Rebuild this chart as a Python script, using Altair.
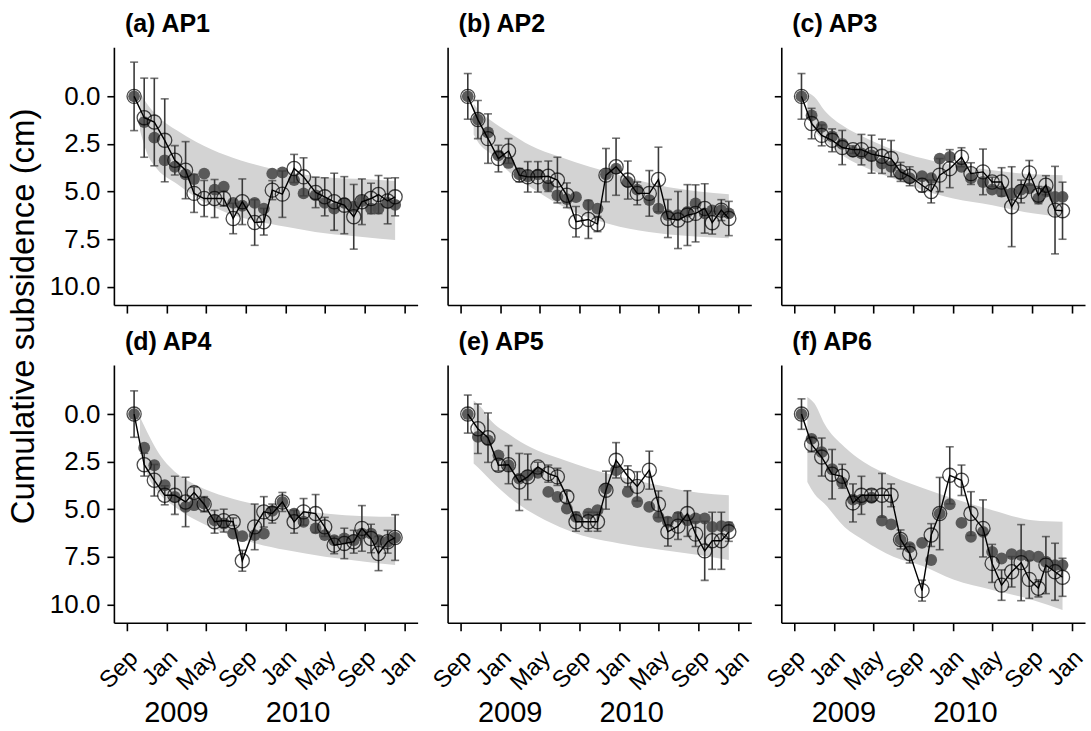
import altair as alt
import pandas as pd

# ---------------- data ----------------
dates = ["2008-09-22", "2008-10-23", "2008-11-23", "2008-12-25", "2009-01-25", "2009-02-27",
         "2009-03-25", "2009-04-25", "2009-05-27", "2009-06-24", "2009-07-23", "2009-08-20",
         "2009-09-27", "2009-10-25", "2009-11-20", "2009-12-21", "2010-01-26", "2010-02-24",
         "2010-04-02", "2010-04-30", "2010-05-29", "2010-06-29", "2010-07-28", "2010-08-22",
         "2010-09-19", "2010-10-12", "2010-11-09", "2010-12-02"]

band_dates = ["2008-10-10", "2008-11-01", "2008-12-01", "2009-02-01", "2009-04-01", "2009-07-01",
              "2009-10-01", "2010-01-01", "2010-05-01", "2010-09-01", "2010-12-02"]

tick_dates = [(2008, 9), (2009, 1), (2009, 5), (2009, 9), (2010, 1), (2010, 5), (2010, 9), (2011, 1)]
year_dates = ["2009-01-30", "2010-02-07"]
year_labels = ["2009", "2010"]
y_ticks = [0, 2.5, 5, 7.5, 10]

titles = ["(a) AP1", "(b) AP2", "(c) AP3", "(d) AP4", "(e) AP5", "(f) AP6"]

obs_a = [0.0, 1.12, 1.35, 2.31, 3.36, 3.88, 5.10, 5.37, 5.37, 5.37, 6.42, 5.54, 6.63, 6.59,
         4.93, 5.14, 3.79, 4.23, 5.05, 5.28, 5.54, 5.72, 6.33, 5.54, 5.37, 5.16, 5.50, 5.28]
err_a = [1.8, 2.08, 2.3, 2.18, 0.77, 1.5, 1.0, 0.95, 1.0, 0.4, 0.8, 1.2, 1.2, 0.7,
         0.5, 1.22, 0.74, 1.0, 0.8, 1.0, 1.5, 1.5, 1.7, 1.2, 0.8, 1.0, 1.2, 1.0]
fill_a = [0.0, 1.35, 2.17, 3.36, 3.7, 4.1, 4.35, 4.06, 4.9, 4.75, 5.6, 5.75, 5.6, 5.9,
          4.06, 4.0, 4.4, 5.1, 5.2, 5.6, 5.9, 5.6, 5.8, 5.5, 5.9, 5.9, 5.6, 5.7]
btop_a = [-0.2, 0.4, 1.0, 1.8, 2.4, 3.1, 3.6, 3.95, 4.25, 4.35, 4.45]
bbot_a = [1.8, 3.0, 3.8, 4.6, 5.3, 6.1, 6.55, 6.85, 7.2, 7.4, 7.55]

obs_b = [0.0, 1.22, 2.22, 3.27, 2.87, 4.14, 4.23, 4.23, 4.20, 4.40, 5.20, 6.59, 6.47, 6.71,
         4.14, 3.70, 4.40, 5.10, 5.10, 4.37, 6.42, 6.50, 6.24, 6.15, 5.89, 6.64, 5.98, 6.42]
err_b = [1.2, 1.0, 1.3, 0.7, 0.65, 0.35, 0.8, 0.8, 0.8, 1.2, 0.65, 0.8, 1.0, 0.4,
         1.4, 1.5, 1.0, 0.6, 1.2, 1.7, 1.0, 1.5, 1.6, 1.5, 1.3, 0.6, 0.55, 0.9]
fill_b = [0.0, 1.22, 1.9, 3.1, 3.5, 4.1, 4.2, 4.1, 4.7, 5.2, 5.4, 5.3, 5.7, 5.9,
          4.1, 3.8, 4.5, 4.9, 5.45, 5.9, 6.24, 6.24, 6.07, 5.63, 6.15, 6.0, 5.98, 6.15]
btop_b = [0.4, 0.85, 1.26, 1.96, 2.57, 3.18, 3.7, 4.14, 4.67, 5.0, 5.14]
bbot_b = [2.0, 2.6, 3.0, 4.05, 4.75, 5.7, 6.4, 6.85, 7.2, 7.38, 7.46]

obs_c = [0.0, 1.43, 2.05, 2.31, 2.69, 2.80, 2.80, 3.04, 3.15, 3.27, 3.97, 4.20, 4.67, 5.00,
         4.14, 3.80, 3.20, 4.06, 3.97, 4.50, 4.50, 5.80, 5.00, 4.02, 5.19, 4.67, 5.98, 6.01]
err_c = [1.2, 0.8, 0.55, 0.6, 0.9, 0.2, 0.8, 1.0, 0.9, 0.95, 0.5, 0.5, 0.35, 0.6,
         0.87, 1.0, 0.5, 0.57, 1.2, 0.25, 0.75, 2.1, 0.6, 0.65, 0.45, 0.5, 2.3, 1.5]
fill_c = [0.0, 1.0, 1.6, 2.1, 2.5, 2.92, 3.0, 3.1, 3.53, 3.7, 4.1, 4.3, 4.2, 4.3,
          3.27, 3.18, 3.7, 4.3, 4.5, 4.9, 5.0, 5.1, 4.9, 4.84, 5.37, 5.0, 5.28, 5.28]
btop_c = [-0.2, 0.03, 0.73, 1.6, 2.13, 2.8, 3.27, 3.62, 3.88, 4.1, 4.14]
bbot_c = [1.0, 1.78, 2.31, 3.18, 3.7, 4.32, 4.93, 5.37, 5.72, 6.15, 6.33]

obs_d = [0.0, 2.66, 3.48, 4.27, 4.27, 4.62, 4.13, 4.74, 5.66, 5.60, 5.66, 7.71, 5.93, 5.14,
         5.23, 4.62, 5.66, 5.14, 5.23, 5.93, 6.89, 6.80, 6.71, 6.01, 6.54, 7.33, 6.71, 6.49]
err_d = [1.22, 0.6, 0.83, 0.5, 1.0, 1.3, 0.3, 0.4, 0.6, 0.6, 0.2, 0.55, 1.2, 0.8,
         0.5, 0.5, 0.6, 0.7, 1.0, 0.5, 0.45, 0.8, 0.6, 1.2, 0.75, 0.9, 0.6, 1.2]
fill_d = [0.0, 1.77, 2.69, 3.74, 4.35, 4.88, 4.79, 4.70, 5.58, 5.75, 6.28, 6.42, 6.36, 6.28,
          5.09, 4.62, 5.23, 5.66, 6.01, 6.36, 6.63, 6.54, 6.63, 6.28, 6.28, 6.63, 6.71, 6.49]
btop_d = [0.16, 0.94, 1.9, 3.13, 3.74, 4.35, 4.74, 4.96, 5.23, 5.37, 5.4]
bbot_d = [1.55, 3.13, 4.0, 4.96, 5.58, 6.28, 6.8, 7.15, 7.5, 7.76, 7.94]

obs_e = [0.0, 0.77, 1.24, 2.69, 2.66, 3.57, 3.30, 2.78, 3.13, 3.30, 4.35, 5.66, 5.66, 5.66,
         4.00, 2.43, 3.27, 3.80, 2.95, 4.74, 6.19, 5.89, 5.23, 6.31, 7.19, 6.66, 6.66, 6.19]
err_e = [1.0, 1.3, 1.3, 0.3, 1.0, 1.5, 1.2, 0.25, 0.45, 0.45, 0.3, 0.5, 0.5, 0.5,
         1.0, 0.93, 0.55, 0.77, 1.0, 0.7, 0.75, 0.7, 1.2, 0.65, 1.55, 1.5, 1.5, 0.5]
fill_e = [0.0, 1.2, 1.38, 2.17, 2.69, 3.39, 3.22, 3.09, 4.09, 4.35, 4.97, 5.4, 5.23, 5.05,
          3.92, 2.95, 4.09, 4.62, 4.88, 5.4, 5.66, 5.4, 5.58, 5.49, 5.49, 5.93, 5.89, 5.93]
btop_e = [-0.72, -0.37, 0.33, 1.12, 1.73, 2.34, 2.87, 3.3, 3.74, 4.14, 4.27]
bbot_e = [2.6, 2.95, 3.48, 4.44, 5.14, 5.93, 6.49, 6.8, 7.12, 7.41, 7.67]

obs_f = [0.0, 1.59, 2.26, 3.16, 3.27, 4.67, 4.27, 4.27, 4.27, 4.27, 6.59, 7.33, 9.28, 6.36,
         5.23, 3.22, 3.48, 5.23, 6.01, 7.85, 8.99, 8.29, 7.81, 8.69, 9.16, 7.94, 8.29, 8.58]
err_f = [0.8, 0.4, 1.0, 1.3, 0.63, 1.0, 1.0, 0.3, 1.15, 0.6, 0.5, 0.5, 0.55, 0.6,
         1.9, 1.5, 0.8, 1.15, 1.5, 1.0, 0.8, 0.8, 2.0, 1.0, 0.45, 1.5, 1.5, 1.0]
fill_f = [0.0, 1.3, 2.0, 2.9, 3.6, 4.5, 4.5, 4.4, 5.6, 5.8, 6.6, 7.0, 6.77, 7.67,
          5.23, 4.74, 5.72, 6.45, 6.19, 7.24, 7.59, 7.36, 7.41, 7.46, 7.5, 7.76, 7.94, 7.94]
btop_f = [-0.9, -0.55, 0.5, 1.73, 2.52, 3.3, 3.9, 4.44, 5.05, 5.58, 5.66]
bbot_f = [3.57, 4.2, 4.7, 5.93, 6.63, 7.5, 8.0, 8.7, 9.25, 9.77, 10.3]

panel_data = [
    (obs_a, err_a, fill_a, btop_a, bbot_a),
    (obs_b, err_b, fill_b, btop_b, bbot_b),
    (obs_c, err_c, fill_c, btop_c, bbot_c),
    (obs_d, err_d, fill_d, btop_d, bbot_d),
    (obs_e, err_e, fill_e, btop_e, bbot_e),
    (obs_f, err_f, fill_f, btop_f, bbot_f),
]

# ---------------- styling ----------------
FONT = "Liberation Sans"
W, H = 304, 258
x_domain = [alt.DateTime(year=2008, month=7, date=22), alt.DateTime(year=2011, month=2, date=9)]
y_domain = [-2.58, 10.97]
tick_dt = [alt.DateTime(year=y, month=m, date=1) for (y, m) in tick_dates]


def ts(d):
    return d + "T00:00:00"


def make_panel(i):
    obs, err, fill, btop, bbot = panel_data[i]
    row, col = divmod(i, 3)
    df = pd.DataFrame({
        "date": [ts(d) for d in dates],
        "obs": obs,
        "fill": fill,
        "lo": [o - e for o, e in zip(obs, err)],
        "hi": [o + e for o, e in zip(obs, err)],
    })
    bdf = pd.DataFrame({"date": [ts(d) for d in band_dates], "top": btop, "bot": bbot})

    xaxis = alt.Axis(values=tick_dt, format="%b", labels=(row == 1), labelAngle=-45,
                     labelAlign="right", labelBaseline="top", labelFontSize=24,
                     labelPadding=15, labelOffset=-2, labelOverlap=False, labelFlush=False,
                     tickSize=8, title="")
    if i == 0:
        yaxis = alt.Axis(values=y_ticks, format=".1f", labels=True, tickSize=7, labelPadding=7,
                         labelFontSize=26, labelOverlap=False, title="Cumulative subsidence (cm)",
                         titleFontSize=33, titleFontWeight="normal", titleX=-80.7,
                         titleY=268.8, titleAngle=270, titleAlign="center",
                         titleBaseline="alphabetic")
    else:
        yaxis = alt.Axis(values=y_ticks, format=".1f", labels=(col == 0), tickSize=7,
                         labelPadding=7, labelFontSize=26, labelOverlap=False, title="")

    xs = alt.Scale(domain=x_domain, nice=False)
    ys = alt.Scale(domain=y_domain, reverse=True, nice=False, zero=False)
    X = alt.X("date:T", scale=xs, axis=xaxis)

    band = alt.Chart(bdf).mark_area(color="#d3d3d3", interpolate="monotone").encode(
        x=X, y=alt.Y("top:Q", scale=ys, axis=yaxis), y2="bot:Q")
    filled = alt.Chart(df).mark_circle(size=140, color="#4f4f4f", opacity=0.92).encode(
        x=X, y=alt.Y("fill:Q", scale=ys, axis=yaxis))
    bars = alt.Chart(df).mark_rule(color="#3a3a3a", strokeWidth=1.6).encode(
        x=X, y=alt.Y("lo:Q", scale=ys, axis=yaxis), y2="hi:Q")
    cap_lo = alt.Chart(df).mark_tick(color="#3a3a3a", orient="horizontal", size=8,
                                     thickness=1.6).encode(
        x=X, y=alt.Y("lo:Q", scale=ys, axis=yaxis))
    cap_hi = alt.Chart(df).mark_tick(color="#3a3a3a", orient="horizontal", size=8,
                                     thickness=1.6).encode(
        x=X, y=alt.Y("hi:Q", scale=ys, axis=yaxis))
    line = alt.Chart(df).mark_line(color="black", strokeWidth=1.4).encode(
        x=X, y=alt.Y("obs:Q", scale=ys, axis=yaxis))
    opens = alt.Chart(df).mark_point(shape="circle", filled=False, size=200, color="black",
                                     strokeWidth=1.3).encode(
        x=X, y=alt.Y("obs:Q", scale=ys, axis=yaxis))

    tdf = pd.DataFrame({"t": [titles[i]]})
    ttl = alt.Chart(tdf).mark_text(fontSize=25, font=FONT, fontWeight="bold", align="left",
                                   baseline="alphabetic", color="black").encode(
        x=alt.value(11), y=alt.value(-15), text="t:N")

    layers = [band, filled, bars, cap_lo, cap_hi, line, opens, ttl]
    if row == 1:
        ydf = pd.DataFrame({"date": [ts(d) for d in year_dates], "label": year_labels})
        years = alt.Chart(ydf).mark_text(fontSize=29, font=FONT, baseline="alphabetic",
                                         align="center", color="black").encode(
            x=X, y=alt.value(H + 99), text="label:N")
        layers.append(years)

    return alt.layer(*layers).properties(width=W, height=H)


chart = alt.concat(*[make_panel(i) for i in range(6)], columns=3,
                   spacing={"row": 60, "column": 30}, bounds="flush").properties(
    padding={"left": 7, "top": 12, "right": 3, "bottom": 3}
).configure_axis(
    domainColor="black", domainWidth=1.6, tickColor="black", tickWidth=1.6,
    labelColor="black", titleColor="black", grid=False, labelFont=FONT, titleFont=FONT,
).configure_view(strokeOpacity=0)

chart.save("out.html", embed_options={"renderer": "svg", "actions": False})
